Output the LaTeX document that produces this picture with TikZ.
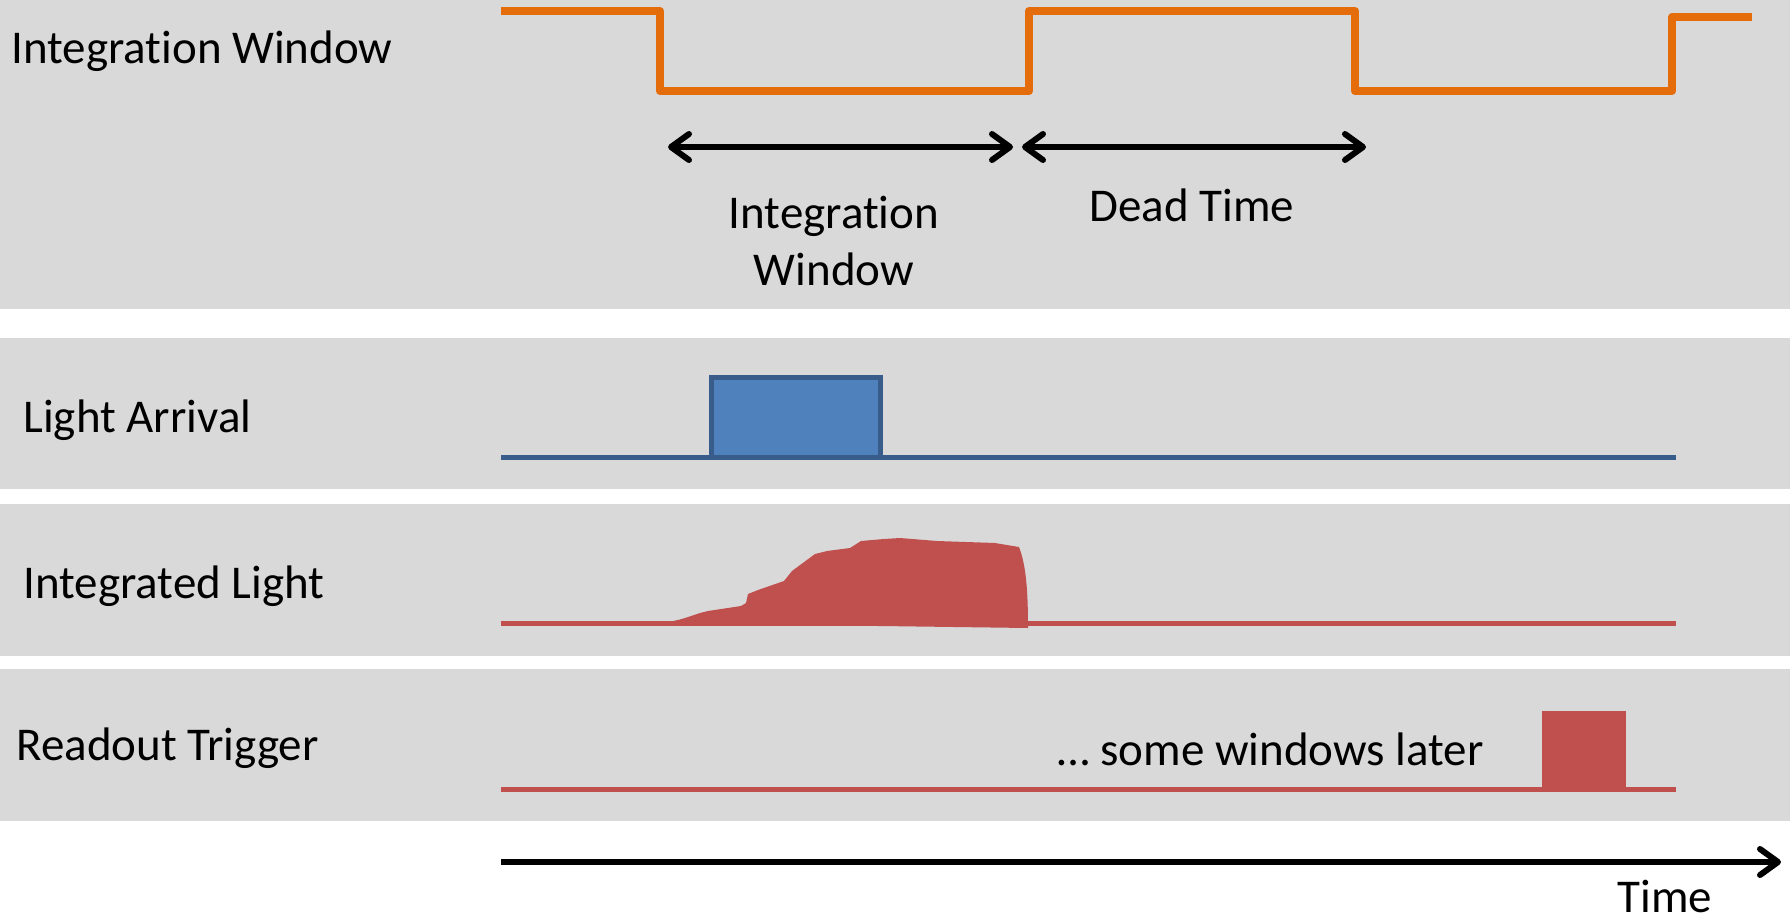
\documentclass[tikz,border=0pt]{standalone}
\usepackage{fontspec}
\setmainfont{Carlito}[Ligatures=NoCommon]
\usetikzlibrary{arrows.meta}
\definecolor{panelgray}{HTML}{D9D9D9}
\definecolor{sigorange}{HTML}{E46C0A}
\definecolor{blueedge}{HTML}{385D8A}
\definecolor{bluefill}{HTML}{4F81BD}
\definecolor{sigred}{HTML}{C0504D}
\tikzset{
  lbl/.style={font=\fontsize{23.5}{28.5}\selectfont, inner sep=0pt},
  barbtip/.tip={Straight Barb[length=9pt,width=13pt,line cap=round,line join=round]},
  spanarrow/.style={line width=3pt, barbtip-barbtip},
  timearrow/.style={line width=3pt, -barbtip},
  orangesig/.style={sigorange, line width=4pt, line join=round},
  baseblue/.style={blueedge, line width=2.5pt},
  basered/.style={sigred, line width=2.5pt}
}
\begin{document}
\begin{tikzpicture}[x=0.5pt,y=-0.5pt]
\useasboundingbox (0,0) rectangle (1790,922);
\fill[white] (0,0) rectangle (1790,922);
% panels
\fill[panelgray] (0,0) rectangle (1790,309);
\fill[panelgray] (0,338) rectangle (1790,489);
\fill[panelgray] (0,504) rectangle (1790,656);
\fill[panelgray] (0,669) rectangle (1790,821);

% integration window signal
\draw[orangesig] (501,11) -- (660,11) -- (660,91) -- (1029,91) -- (1029,11) -- (1355,11) -- (1355,91) -- (1672,91) -- (1672,17) -- (1752,17);

% span arrows
\coordinate (iwL) at (668,147);
\coordinate (iwR) at (1013,147);
\coordinate (dtL) at (1022,147);
\coordinate (dtR) at (1366,147);
\draw[spanarrow] (iwL) -- (iwR);
\draw[spanarrow] (dtL) -- (dtR);

% labels
\node[lbl, anchor=base west] (labIW) at (11,63) {Integration Window};
\node[lbl, anchor=base] (spanIW1) at (834,228) {Integration};
\node[lbl, anchor=base] (spanIW2) at (834,285) {Window};
\node[lbl, anchor=base] (spanDT) at (1192,221) {Dead Time};
\node[lbl, anchor=base west] (labLA) at (23,432) {Light Arrival};
\node[lbl, anchor=base west] (labIL) at (23,598) {Integrated Light};
\node[lbl, anchor=base west] (labRT) at (16,760) {Readout Trigger};
\node[lbl, anchor=base east] (later) at (1484,765) {… some windows later};
\node[lbl, anchor=base] (labTime) at (1665,912) {Time};

% light arrival
\draw[baseblue] (501,457) -- (1676,457);
\draw[fill=bluefill, draw=blueedge, line width=2.5pt] (711,377) rectangle (880,457);

% integrated light
\draw[basered] (501,623) -- (1676,623);
\fill[sigred] (662,622) .. controls (675,622) and (685,618) .. (700,613) -- (708,611) -- (741,606) -- (746,603) -- (748,594) -- (758,590) -- (784,581) -- (792,571) -- (815,554) -- (827,551) -- (850,548) -- (861,541) -- (884,539) -- (900,538) -- (937,541) -- (995,543) -- (1019,547) .. controls (1026,565) and (1028,590) .. (1028,628) -- (880,626) -- (662,625) -- cycle;

% readout trigger
\draw[basered] (501,789) -- (1676,789);
\fill[sigred] (1542,711) rectangle (1626,789);

% time axis
\coordinate (tS) at (501,862);
\coordinate (tE) at (1781,862);
\draw[timearrow] (tS) -- (tE);
\end{tikzpicture}
\end{document}
